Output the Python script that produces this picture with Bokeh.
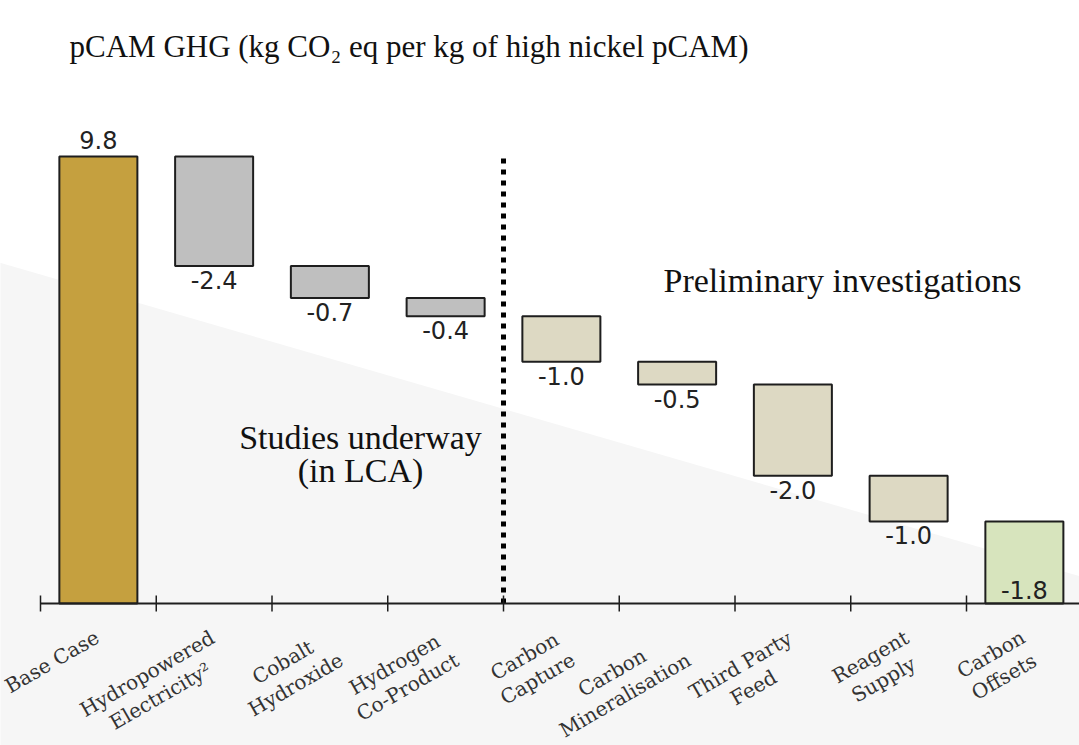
import math
from bokeh.plotting import figure
from bokeh.models import ColumnDataSource, Range1d, PolyAnnotation, Label
from bokeh.core.properties import value
from bokeh.embed import file_html
from bokeh.resources import INLINE

# ---------------- data ----------------
categories = ["Base Case", "Hydropowered\nElectricity\u00b2", "Cobalt\nHydroxide",
              "Hydrogen\nCo-Product", "Carbon\nCapture", "Carbon\nMineralisation",
              "Third Party\nFeed", "Reagent\nSupply", "Carbon\nOffsets"]
values = [9.8, -2.4, -0.7, -0.4, -1.0, -0.5, -2.0, -1.0, -1.8]
groups = ["base", "study", "study", "study", "prelim", "prelim", "prelim", "prelim", "offset"]

# ---------------- styles ----------------
group_colors = {"base": "#C5A03F", "study": "#BFBFBF", "prelim": "#DDD9C3", "offset": "#D7E4BD"}
BG_GREY = "#F6F6F6"
EDGE = "#1E1E1E"
SERIF = "Liberation Serif"
LABEL_FONT = "DejaVu Serif"
LABEL_PX = 20

# ---------------- derived waterfall geometry ----------------
n = len(categories)
xc, bottoms, tops, colors, labels = [], [], [], [], []
running = 0.0
for i, (v, g) in enumerate(zip(values, groups)):
    xc.append(i + 0.5)
    if g == "base":
        b, t = 0.0, v
        running = v
    else:
        t = running
        b = running + v
        running = b
    bottoms.append(b)
    tops.append(t)
    colors.append(group_colors[g])
    labels.append(f"{v:.1f}")

bw = 0.337
src = ColumnDataSource(dict(x=xc, left=[x - bw for x in xc], right=[x + bw for x in xc],
                            bottom=bottoms, top=tops, color=colors))

# pixel calibration of the frame (frame covers the whole canvas)
PX_X = 115.75   # px per category
PX_Y = 45.6     # px per unit
W, H = 1079, 745
AXIS_PX = 603   # screen row of y = 0
x_start = -40 / PX_X
x_end = x_start + W / PX_X
y_top = AXIS_PX / PX_Y
y_bot = y_top - H / PX_Y

p = figure(width=W, height=H, x_range=Range1d(x_start, x_end), y_range=Range1d(y_bot, y_top),
           x_axis_type=None, y_axis_type=None, output_backend="svg", toolbar_location=None,
           min_border=0, outline_line_color=None,
           background_fill_color="white", border_fill_color="white")
p.xgrid.visible = False
p.ygrid.visible = False

# background diagonal shading
p.add_layout(PolyAnnotation(xs=[x_start - 0.1, x_end + 0.1, x_end + 0.1, x_start - 0.1],
                            ys=[(AXIS_PX - 259) / PX_Y, (AXIS_PX - 579) / PX_Y, y_bot - 5, y_bot - 5],
                            fill_color=BG_GREY, fill_alpha=1.0, line_color=None,
                            level="underlay"))

# bars
p.quad(left="left", right="right", bottom="bottom", top="top", fill_color="color",
       line_color=EDGE, line_width=2, source=src)

# divider between study groups
split = groups.index("prelim")
p.segment(x0=[split], y0=[0], x1=[split], y1=[values[0]], line_color="black",
          line_width=5, line_dash="5 6", line_cap="butt")

# x axis line at zero with ticks at category boundaries
tick_h = 8 / PX_Y
p.segment(x0=[0], y0=[0], x1=[n + 1], y1=[0], line_color=EDGE, line_width=2)
p.segment(x0=list(range(n + 1)), y0=[-tick_h] * (n + 1), x1=list(range(n + 1)),
          y1=[tick_h] * (n + 1), line_color=EDGE, line_width=1.5)

# category labels: rotated blocks, lines centred, block's top-right corner near the tick centre
CW = {" ": .318, "a": .596, "b": .640, "c": .560, "d": .640, "e": .592, "f": .370, "g": .640,
      "h": .644, "i": .320, "l": .320, "n": .644, "o": .602, "p": .640, "r": .478, "s": .513,
      "t": .402, "u": .644, "w": .856, "x": .565, "y": .565, "B": .735, "C": .720, "E": .730,
      "F": .694, "H": .872, "M": .995, "O": .820, "P": .732, "R": .770, "S": .685, "T": .712,
      "-": .338, "\u00b2": .40}


def text_w(s):
    return sum(CW.get(ch, .6) for ch in s) * LABEL_PX


theta = math.radians(30)
lh = LABEL_PX * 1.3
ox, oy = -8, 21
lx, ly, lt, lxo, lyo = [], [], [], [], []
for i, cat in enumerate(categories):
    lines = cat.split("\n")
    wb = max(text_w(s) for s in lines)
    for j, s in enumerate(lines):
        lx.append(xc[i])
        ly.append(0.0)
        lt.append(s)
        lxo.append(ox - wb / 2 * math.cos(theta) + (j + 0.5) * lh * math.sin(theta))
        lyo.append(oy + wb / 2 * math.sin(theta) + (j + 0.5) * lh * math.cos(theta))
lab_src = ColumnDataSource(dict(x=lx, y=ly, t=lt, xo=lxo, yo=lyo))
p.text(x="x", y="y", text="t", x_offset="xo", y_offset="yo", source=lab_src, angle=theta,
       text_align="center", text_baseline="middle", text_font=value(LABEL_FONT),
       text_font_size=f"{LABEL_PX}px", text_color="#333333")

# value labels
def sub(idx, ys):
    return ColumnDataSource(dict(x=[xc[i] for i in idx], y=[ys[i] for i in idx],
                                 t=[labels[i] for i in idx]))


base_idx = [i for i in range(n) if groups[i] == "base"]
mid_idx = [i for i in range(n) if groups[i] in ("study", "prelim")]
off_idx = [i for i in range(n) if groups[i] == "offset"]
common = dict(text="t", text_align="center", text_font=value("DejaVu Sans"),
              text_font_size="24px", text_color="#222222")
p.text(x="x", y="y", source=sub(base_idx, tops), text_baseline="bottom", y_offset=-8, **common)
p.text(x="x", y="y", source=sub(mid_idx, bottoms), text_baseline="top", y_offset=5, **common)
p.text(x="x", y="y", source=sub(off_idx, bottoms), text_baseline="bottom", y_offset=-5, **common)

# title and annotations
p.add_layout(Label(x=(69 - 40) / PX_X, y=(AXIS_PX - 46) / PX_Y,
                   text="pCAM GHG (kg CO\u2082 eq per kg of high nickel pCAM)",
                   text_font=SERIF, text_font_size="31px",
                   text_color="#111111", text_baseline="alphabetic"))
p.add_layout(Label(x=(842 - 40) / PX_X, y=(AXIS_PX - 280) / PX_Y, text="Preliminary investigations",
                   text_font=SERIF, text_font_size="34px", text_color="#111111",
                   text_align="center", text_baseline="middle"))
p.add_layout(Label(x=(360 - 40) / PX_X, y=(AXIS_PX - 437) / PX_Y, text="Studies underway",
                   text_font=SERIF, text_font_size="34px", text_color="#111111",
                   text_align="center", text_baseline="middle"))
p.add_layout(Label(x=(360 - 40) / PX_X, y=(AXIS_PX - 470) / PX_Y, text="(in LCA)",
                   text_font=SERIF, text_font_size="34px", text_color="#111111",
                   text_align="center", text_baseline="middle"))

open("out.html", "w").write(file_html(p, INLINE))
